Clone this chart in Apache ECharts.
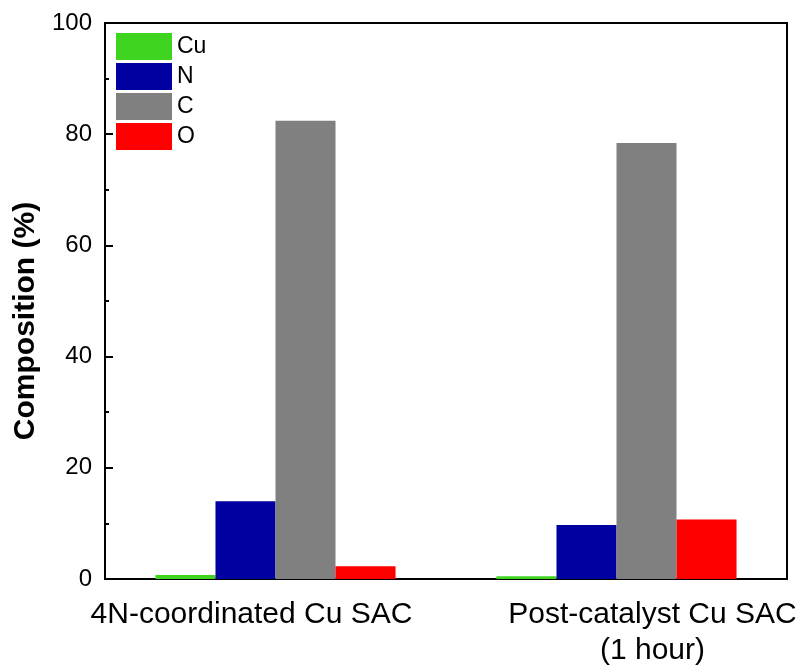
<!DOCTYPE html>
<html>
<head>
<meta charset="utf-8">
<script src="https://cdn.jsdelivr.net/npm/echarts@6/dist/echarts.min.js"></script>
<style>html,body{margin:0;padding:0;background:#fff}#c{width:800px;height:672px}</style>
</head>
<body>
<div id="c"></div>
<script>
const categories = ['4N-coordinated Cu SAC', 'Post-catalyst Cu SAC\n(1 hour)'];
const seriesNames = ['Cu', 'N', 'C', 'O'];
const cuValues = [0.7, 0.5];
const nValues = [14.0, 9.7];
const cValues = [82.4, 78.4];
const oValues = [2.3, 10.7];
const yTicks = [0, 20, 40, 60, 80, 100];

const colors = ['#3ED41F', '#0000A0', '#808080', '#FF0000'];
const dataSets = [cuValues, nValues, cValues, oValues];
const FONT = 'Liberation Sans, Arial, sans-serif';

const chart = echarts.init(document.getElementById('c'));
chart.setOption({
  animation: false,
  backgroundColor: '#fff',
  grid: { left: 105, right: 13, top: 23, bottom: 93, show: true, borderColor: '#000', borderWidth: 2 },
  legend: {
    orient: 'vertical', left: 116, top: 33, padding: 0,
    itemWidth: 56, itemHeight: 27, itemGap: 3,
    icon: 'rect',
    textStyle: { fontFamily: FONT, fontSize: 23, color: '#000' },
    data: seriesNames
  },
  xAxis: {
    type: 'category',
    data: categories,
    axisLine: { lineStyle: { color: '#000', width: 2 } },
    axisTick: { show: false },
    axisLabel: {
      interval: 0, hideOverlap: false,
      margin: 18,
      fontFamily: FONT, color: '#000', fontSize: 30,
      formatter: function (v, i) {
        const lines = v.split('\n');
        const key = i === 0 ? 'a' : 'b';
        return lines.map(l => '{' + key + '|' + l + '}').join('\n');
      },
      rich: {
        a: { fontFamily: FONT, fontSize: 30, color: '#000', lineHeight: 36, padding: [0, 48, 0, 0] },
        b: { fontFamily: FONT, fontSize: 30, color: '#000', lineHeight: 36, padding: [0, 0, 0, 72] }
      }
    }
  },
  yAxis: {
    type: 'value', min: yTicks[0], max: yTicks[yTicks.length - 1], interval: 20,
    name: 'Composition (%)', nameLocation: 'middle', nameGap: 62,
    nameTextStyle: { fontFamily: FONT, fontSize: 30, fontWeight: 'bold', color: '#000', padding: [0, 40, 0, 0] },
    axisLine: { show: true, lineStyle: { color: '#000', width: 2 } },
    axisTick: { show: true, inside: true, length: 8, lineStyle: { color: '#000', width: 2 } },
    minorTick: { show: true, splitNumber: 2, length: 4, lineStyle: { color: '#000', width: 2 } },
    splitLine: { show: false },
    axisLabel: { fontFamily: FONT, fontSize: 24, color: '#000', margin: 13 }
  },
  series: seriesNames.map((n, k) => ({
    name: n, type: 'bar', data: dataSets[k],
    itemStyle: { color: colors[k] },
    barGap: '0%', barCategoryGap: '29.6%'
  }))
});
</script>
</body>
</html>
